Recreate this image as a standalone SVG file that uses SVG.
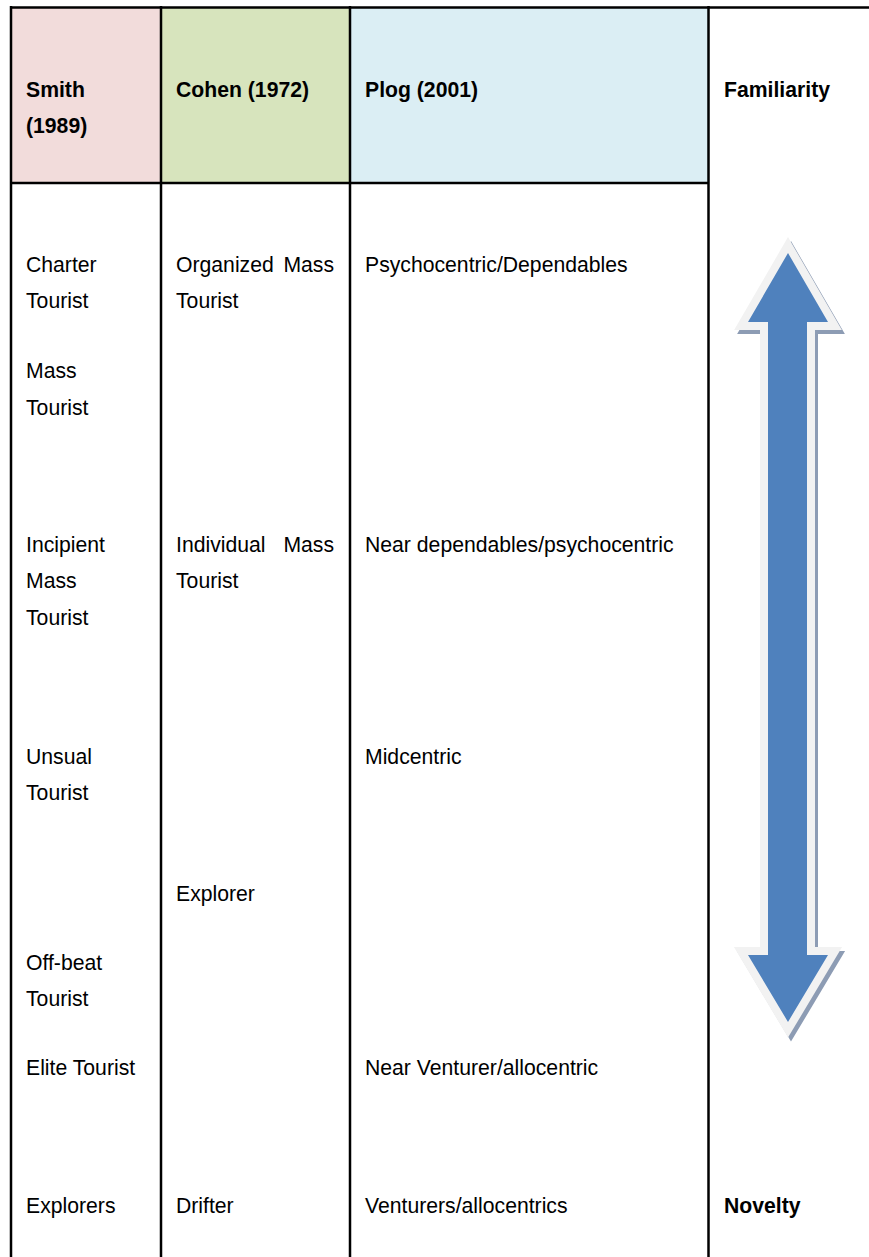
<svg xmlns="http://www.w3.org/2000/svg" width="869" height="1257" viewBox="0 0 869 1257">
  <style>
    .cell { font-family: "Liberation Sans", Arial, sans-serif; font-size: 21.2px; fill: #000; }
    .head { font-family: "Liberation Sans", Arial, sans-serif; font-size: 21.2px; font-weight: bold; fill: #000; }
    .rule { stroke: #000; stroke-width: 2.5; fill: none; }
  </style>
  <defs>
    <!-- double-headed arrow outline, shared by shadow and face -->
    <polygon id="dblArrow" points="788,253 828,322 807,322 807,955 828,955 788,1022 748,955 768,955 768,322 748,322"/>
  </defs>

  <rect width="869" height="1257" fill="#ffffff"/>

  <!-- header cell fills -->
  <g id="header-fills">
    <rect x="11" y="8" width="150" height="175" fill="#f2dcdb"/>
    <rect x="161" y="8" width="189" height="175" fill="#d7e4bd"/>
    <rect x="350" y="8" width="358" height="175" fill="#dbeef4"/>
  </g>

  <!-- table rules -->
  <g id="connectors">
    <line class="rule" x1="10" y1="7.5" x2="869" y2="7.5"/>
    <line class="rule" x1="10" y1="183" x2="709" y2="183"/>
    <line class="rule" x1="11" y1="6" x2="11" y2="1257"/>
    <line class="rule" x1="161" y1="6" x2="161" y2="1257"/>
    <line class="rule" x1="350" y1="6" x2="350" y2="1257"/>
    <line class="rule" x1="708.5" y1="6" x2="708.5" y2="1257"/>
  </g>

  <!-- column headers -->
  <g id="head-smith">
    <text class="head" x="26" y="97">Smith</text>
    <text class="head" x="26" y="133">(1989)</text>
  </g>
  <g id="head-cohen">
    <text class="head" x="176" y="97">Cohen (1972)</text>
  </g>
  <g id="head-plog">
    <text class="head" x="365" y="97">Plog (2001)</text>
  </g>
  <g id="head-familiarity">
    <text class="head" x="724" y="97">Familiarity</text>
  </g>

  <!-- Smith (1989) column -->
  <g id="smith-charter"><text class="cell" x="26" y="272">Charter</text><text class="cell" x="26" y="308">Tourist</text></g>
  <g id="smith-mass"><text class="cell" x="26" y="378">Mass</text><text class="cell" x="26" y="415">Tourist</text></g>
  <g id="smith-incipient"><text class="cell" x="26" y="552">Incipient</text><text class="cell" x="26" y="588">Mass</text><text class="cell" x="26" y="625">Tourist</text></g>
  <g id="smith-unusual"><text class="cell" x="26" y="764">Unsual</text><text class="cell" x="26" y="800">Tourist</text></g>
  <g id="smith-offbeat"><text class="cell" x="26" y="970">Off-beat</text><text class="cell" x="26" y="1006">Tourist</text></g>
  <g id="smith-elite"><text class="cell" x="26" y="1075">Elite Tourist</text></g>
  <g id="smith-explorers"><text class="cell" x="26" y="1213">Explorers</text></g>

  <!-- Cohen (1972) column -->
  <g id="cohen-organized">
    <text class="cell" y="272"><tspan x="176">Organized</tspan><tspan x="334" text-anchor="end">Mass</tspan></text>
    <text class="cell" x="176" y="308">Tourist</text>
  </g>
  <g id="cohen-individual">
    <text class="cell" y="552"><tspan x="176">Individual</tspan><tspan x="334" text-anchor="end">Mass</tspan></text>
    <text class="cell" x="176" y="588">Tourist</text>
  </g>
  <g id="cohen-explorer"><text class="cell" x="176" y="901">Explorer</text></g>
  <g id="cohen-drifter"><text class="cell" x="176" y="1213">Drifter</text></g>

  <!-- Plog (2001) column -->
  <g id="plog-psychocentric"><text class="cell" x="365" y="272">Psychocentric/Dependables</text></g>
  <g id="plog-near-dependables"><text class="cell" x="365" y="552">Near dependables/psychocentric</text></g>
  <g id="plog-midcentric"><text class="cell" x="365" y="764">Midcentric</text></g>
  <g id="plog-near-venturer"><text class="cell" x="365" y="1075">Near Venturer/allocentric</text></g>
  <g id="plog-venturers"><text class="cell" x="365" y="1213">Venturers/allocentrics</text></g>

  <!-- familiarity / novelty scale -->
  <g id="scale-arrow">
    <use href="#dblArrow" transform="translate(3,4)" fill="#8d9cb4" stroke="#8d9cb4" stroke-width="16" stroke-linejoin="miter" stroke-miterlimit="4"/>
    <use href="#dblArrow" fill="#4f81bd" stroke="#f2f2f2" stroke-width="16" stroke-linejoin="miter" stroke-miterlimit="4"/>
    <use href="#dblArrow" fill="#4f81bd"/>
  </g>
  <g id="foot-novelty">
    <text class="head" x="724" y="1213">Novelty</text>
  </g>
</svg>
